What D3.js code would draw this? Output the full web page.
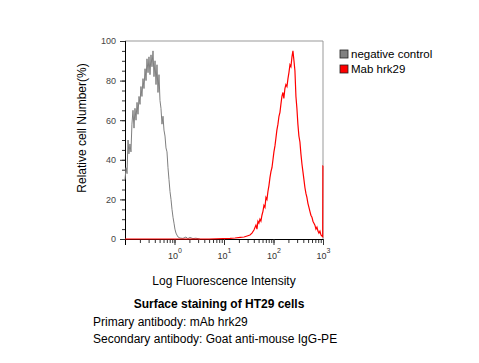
<!DOCTYPE html>
<html>
<head>
<meta charset="utf-8">
<script src="https://cdn.jsdelivr.net/npm/d3@7"></script>
<style>
  body { margin: 0; background: #fff; }
  text { font-family: "Liberation Sans", Arial, sans-serif; }
</style>
</head>
<body>
<div id="container"></div>
<script>
// histogram channels (fluorescence intensity) and relative cell number (%)
const controlIntensity = [0.100, 0.105, 0.110, 0.115, 0.120, 0.126, 0.132, 0.138, 0.145, 0.152,
  0.159, 0.167, 0.175, 0.183, 0.192, 0.201, 0.210, 0.220, 0.231, 0.242,
  0.254, 0.266, 0.278, 0.292, 0.305, 0.320, 0.335, 0.351, 0.368, 0.385,
  0.404, 0.423, 0.443, 0.464, 0.486, 0.509, 0.533, 0.559, 0.586, 0.613,
  0.643, 0.673, 0.705, 0.739, 0.774, 0.811, 0.850, 0.890, 0.933, 0.977,
  1.02, 1.07, 1.12, 1.18, 1.29, 1.48, 1.70, 1.86, 2.05, 2.36, 2.70, 3.25];
const controlCount = [30, 36, 33, 50, 43, 48, 44, 58, 65, 56,
  66, 60, 69, 63, 72, 68, 77, 72, 81, 76,
  86, 80, 91, 84, 92, 83, 93, 87, 95, 82,
  90, 78, 88, 74, 83, 70, 66, 58, 62, 55,
  52, 46, 44, 36, 30, 24, 20, 15, 11, 8,
  5, 3, 2, 1, 0.5, 0.3, 1, 0.2, 0.8, 0.2, 0.4, 0];

const mabIntensity = [0.1, 1, 5, 13.3, 16.7, 21.3, 25.4, 29.3, 33.5, 36.7, 40.3,
  44.2, 46.3, 48.5, 50.8, 53.2, 55.7, 58.4, 61.2, 64.1, 67.2,
  70.4, 73.7, 77.2, 80.9, 84.8, 88.8, 93.1, 97.5, 102, 107,
  112, 117, 123, 129, 135, 141, 148, 155, 162, 170,
  178, 187, 196, 205, 215, 225, 236, 247, 259, 271,
  284, 297, 311, 326, 342, 358, 375, 393, 412, 431,
  452, 473, 496, 520, 544, 570, 598, 626, 656, 687,
  720, 755, 791, 828, 868, 909, 952, 985, 995, 1000];
const mabCount = [0, 0, 0, 0.3, 0.5, 0.8, 1, 1.5, 2, 3, 4.5,
  7, 5, 9, 8, 10, 9, 12, 14, 17, 16,
  21, 20, 24, 27, 31, 34, 36, 40, 44, 47,
  51, 55, 58, 62, 64, 68, 72, 74, 71, 76,
  78, 77, 81, 84, 88, 87, 92, 95, 90, 85,
  72, 66, 58, 52, 49, 43, 38, 34, 30, 26,
  23, 21, 18, 16, 14, 12, 11, 9, 8, 7,
  5, 6, 4, 3, 4, 2, 1.5, 1.2, 37, 37];

const seriesNames = ["negative control", "Mab hrk29"];
const seriesColors = ["#808080", "#ff0000"];
const xMajorTicks = [1, 10, 100, 1000];
const xTickExponents = ["0", "1", "2", "3"];
const yTicks = [0, 20, 40, 60, 80, 100];
const yMinorTicks = d3.range(0, 101, 5);

const width = 479, height = 363;
const svg = d3.select("#container").append("svg")
  .attr("width", width).attr("height", height);

const x = d3.scaleLog().domain([0.1, 1000]).range([125, 323]);
const y = d3.scaleLinear().domain([0, 100]).range([239, 41]);

// frame top/right
svg.append("line").attr("x1", 125).attr("x2", 323).attr("y1", 41).attr("y2", 41)
  .attr("stroke", "#999");
svg.append("line").attr("x1", 323).attr("x2", 323).attr("y1", 41).attr("y2", 239)
  .attr("stroke", "#999");

// x axis minor + major
const xMinor = svg.append("g").attr("transform", "translate(0,239)")
  .call(d3.axisBottom(x).tickValues(x.ticks()).tickSize(4).tickFormat(""));
const xAxis = svg.append("g").attr("transform", "translate(0,239)")
  .call(d3.axisBottom(x).tickValues(xMajorTicks).tickSize(6).tickFormat(""));
[xMinor, xAxis].forEach(g => {
  g.select(".domain").attr("stroke", "#000");
  g.selectAll(".tick line").attr("stroke", "#333");
});
xAxis.selectAll(".tick").each(function(d, i) {
  const t = d3.select(this).select("text")
    .attr("y", 20).attr("dy", null).attr("fill", "#333")
    .attr("font-size", 9).attr("text-anchor", "middle");
  t.append("tspan").text("10");
  t.append("tspan").attr("dy", -6).attr("font-size", 7).text(xTickExponents[i]);
});

// y axis
const yMinor = svg.append("g").attr("transform", "translate(125,0)")
  .call(d3.axisLeft(y).tickValues(yMinorTicks).tickSize(3).tickFormat(""));
const yAxis = svg.append("g").attr("transform", "translate(125,0)")
  .call(d3.axisLeft(y).tickValues(yTicks).tickSize(5).tickPadding(4));
[yMinor, yAxis].forEach(g => {
  g.select(".domain").attr("stroke", "#000");
  g.selectAll(".tick line").attr("stroke", "#333");
});
yAxis.selectAll(".tick text").attr("font-size", 9).attr("fill", "#444")
  .style("font-family", "Liberation Sans, Arial, sans-serif");

// histogram lines
const line = d3.line().x(d => x(d[0])).y(d => y(d[1]));
svg.append("path")
  .datum(controlIntensity.map((v, i) => [v, controlCount[i]]))
  .attr("fill", "none").attr("stroke", seriesColors[0]).attr("stroke-width", 1)
  .attr("d", line);
svg.append("path")
  .datum(mabIntensity.map((v, i) => [v, mabCount[i]]))
  .attr("fill", "none").attr("stroke", seriesColors[1]).attr("stroke-width", 1.2)
  .attr("d", line);

// legend
const legend = svg.append("g");
seriesNames.forEach((name, i) => {
  legend.append("rect")
    .attr("x", 340).attr("y", 50 + i * 15).attr("width", 8).attr("height", 8)
    .attr("fill", seriesColors[i]).attr("stroke", "#222").attr("stroke-width", 0.8);
  legend.append("text")
    .attr("x", 351).attr("y", 58 + i * 15)
    .attr("font-size", 11.5).attr("fill", "#000")
    .text(name);
});

// axis titles
svg.append("text")
  .attr("transform", "translate(86,128) rotate(-90)")
  .attr("text-anchor", "middle").attr("font-size", 12)
  .text("Relative cell Number(%)");
svg.append("text")
  .attr("x", 224).attr("y", 285)
  .attr("text-anchor", "middle").attr("font-size", 12)
  .text("Log Fluorescence Intensity");

// captions
svg.append("text")
  .attr("x", 219).attr("y", 308)
  .attr("text-anchor", "middle").attr("font-size", 12).attr("font-weight", "bold")
  .text("Surface staining of HT29 cells");
svg.append("text")
  .attr("x", 93).attr("y", 326).attr("font-size", 12)
  .text("Primary antibody: mAb hrk29");
svg.append("text")
  .attr("x", 93).attr("y", 343).attr("font-size", 12)
  .text("Secondary antibody: Goat anti-mouse IgG-PE");
</script>
</body>
</html>
